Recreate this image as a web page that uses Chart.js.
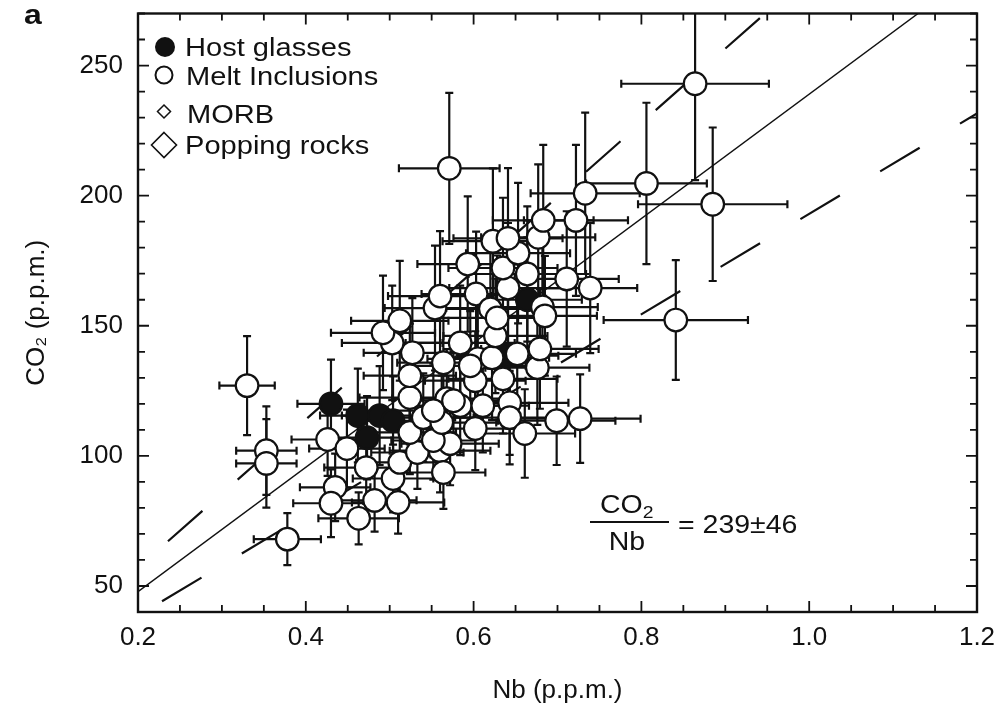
<!DOCTYPE html>
<html><head><meta charset="utf-8">
<script src="https://cdn.jsdelivr.net/npm/chart.js@4.4.1/dist/chart.umd.min.js"></script>
<style>html,body{margin:0;padding:0;background:#fff}#wrap{width:1002px;height:706px;position:relative}</style>
</head><body><div id="wrap"><canvas id="c"></canvas></div>
<script>
// ---- Data ----
const hostNb     = [0.430, 0.462, 0.473, 0.488, 0.504, 0.641, 0.664];
const hostCO2    = [120, 115.5, 107, 115.5, 113.5, 138.5, 160];
const hostNbErr  = [0.040, 0.045, 0.050, 0.045, 0.050, 0.060, 0.065];
const hostCO2Err = [17, 18, 16, 19, 17, 22, 24];

const miNb = [0.330,0.353,0.353,0.378,0.426,0.449,0.472,0.435,0.430,0.463,
              0.482,0.510,0.504,0.512,0.533,0.560,0.564,0.572,0.552,0.524,
              0.540,0.562,0.602,0.584,0.611,0.643,0.643,0.661,0.699,0.727,
              0.524,0.568,0.524,0.602,0.635,0.676,0.679,0.564,0.527,0.503,
              0.492,0.512,0.584,0.605,0.622,0.626,0.652,0.554,0.560,0.603,
              0.620,0.628,0.641,0.682,0.685,0.711,0.739,0.593,0.635,0.664,
              0.653,0.623,0.641,0.677,0.683,0.722,0.733,0.571,0.806,0.864,
              0.885,0.841,0.552,0.576,0.596];
const miCO2 = [127.0,102.0,97.1,68.0,106.3,102.8,95.5,87.9,81.8,76.0,
               82.9,82.1,91.3,97.5,101.3,102.0,93.6,104.7,105.9,109.0,
               114.7,112.8,110.5,119.3,119.3,120.4,114.7,108.6,113.5,114.3,
               122.4,122.0,130.8,128.9,129.6,133.9,141.1,135.8,139.6,143.4,
               147.3,151.9,143.4,137.3,137.7,146.1,139.2,156.8,161.4,162.2,
               156.5,153.0,164.5,157.2,153.8,168.0,164.5,173.7,172.2,169.9,
               177.9,182.5,183.6,184.0,190.5,190.5,200.9,210.5,204.7,243.0,
               196.7,152.2,117.4,121.2,134.6];
const miNbErr = [0.033,0.036,0.036,0.040,0.043,0.045,0.050,0.042,0.045,0.048,
                 0.050,0.055,0.048,0.052,0.055,0.060,0.050,0.058,0.050,0.055,
                 0.060,0.065,0.058,0.062,0.055,0.070,0.065,0.060,0.070,0.072,
                 0.060,0.065,0.055,0.060,0.065,0.062,0.070,0.055,0.058,0.060,
                 0.062,0.058,0.065,0.060,0.068,0.062,0.070,0.060,0.062,0.065,
                 0.060,0.068,0.070,0.066,0.062,0.062,0.056,0.060,0.065,0.070,
                 0.062,0.060,0.065,0.068,0.060,0.062,0.065,0.060,0.072,0.088,
                 0.089,0.086,0.058,0.062,0.066];
const miCO2Err = [19,17,17,10,14,15,14,13,13,10,
                  12,12,13,15,14,16,14,16,15,16,
                  17,18,16,19,18,20,18,17,17,17,
                  18,19,20,19,21,22,23,20,21,22,
                  22,23,22,21,24,22,23,24,25,24,
                  23,24,25,24,23,26,25,26,27,26,
                  27,28,27,28,29,29,31,29,31,37,
                  29.5,23,18,19,21];

const ratioValue = 239;
const ratioError = 46;
const lineNb = [0.2, 1.2];

const xTickValues = [0.2, 0.4, 0.6, 0.8, 1.0, 1.2];
const xTickLabels = ['0.2', '0.4', '0.6', '0.8', '1.0', '1.2'];
const yTickValues = [50, 100, 150, 200, 250];
const yTickLabels = ['50', '100', '150', '200', '250'];
const legendLabels = ['Host glasses', 'Melt Inclusions', 'MORB', 'Popping rocks'];
const xTitle = 'Nb (p.p.m.)';
const yTitle = 'CO\u2082 (p.p.m.)';
const panelLabel = 'a';

// ---- Drawing helpers ----
const INK = '#111';
const SX = 1.14;
function sText(ctx, text, x, y, size, weight, align) {
  ctx.save();
  ctx.font = (weight || 'normal') + ' ' + size + 'px "Liberation Sans", Arial, sans-serif';
  ctx.textAlign = align || 'left';
  ctx.textBaseline = 'alphabetic';
  ctx.fillStyle = INK;
  ctx.translate(x, y);
  ctx.scale(SX, 1);
  ctx.fillText(text, 0, 0);
  const w = ctx.measureText(text).width * SX;
  ctx.restore();
  return w;
}

const errPlugin = {
  id: 'errbars',
  beforeDatasetsDraw(chart) {
    const {ctx, chartArea: a, scales: {x, y}} = chart;
    ctx.save();
    ctx.beginPath();
    ctx.rect(a.left, a.top, a.right - a.left, a.bottom - a.top);
    ctx.clip();
    ctx.strokeStyle = INK;
    ctx.lineWidth = 2.2;
    const cap = 4;
    const draw = (nb, co, ne, ce) => {
      for (let i = 0; i < nb.length; i++) {
        const px = x.getPixelForValue(nb[i]);
        const py = y.getPixelForValue(co[i]);
        const x0 = x.getPixelForValue(nb[i] - ne[i]);
        const x1 = x.getPixelForValue(nb[i] + ne[i]);
        const y0 = y.getPixelForValue(co[i] - ce[i]);
        const y1 = y.getPixelForValue(co[i] + ce[i]);
        ctx.beginPath();
        ctx.moveTo(x0, py); ctx.lineTo(x1, py);
        ctx.moveTo(x0, py - cap); ctx.lineTo(x0, py + cap);
        ctx.moveTo(x1, py - cap); ctx.lineTo(x1, py + cap);
        ctx.moveTo(px, y0); ctx.lineTo(px, y1);
        ctx.moveTo(px - cap, y0); ctx.lineTo(px + cap, y0);
        ctx.moveTo(px - cap, y1); ctx.lineTo(px + cap, y1);
        ctx.stroke();
      }
    };
    draw(hostNb, hostCO2, hostNbErr, hostCO2Err);
    draw(miNb, miCO2, miNbErr, miCO2Err);
    ctx.restore();
  }
};

const framePlugin = {
  id: 'frame',
  afterDraw(chart) {
    const {ctx, chartArea: a, scales: {x, y}} = chart;
    ctx.save();
    ctx.strokeStyle = INK;
    ctx.lineWidth = 2.4;
    ctx.strokeRect(a.left, a.top, a.right - a.left, a.bottom - a.top);
    ctx.lineWidth = 1.8;
    for (let k = 0; k <= 20; k++) {
      const v = x.min + k * 0.05;
      const major = k % 4 === 0;
      const L = major ? 11 : 7;
      const px = x.getPixelForValue(v);
      ctx.beginPath();
      ctx.moveTo(px, a.bottom); ctx.lineTo(px, a.bottom - L);
      ctx.moveTo(px, a.top); ctx.lineTo(px, a.top + L);
      ctx.stroke();
    }
    for (let v = 40; v <= y.max; v += 10) {
      const major = v % 50 === 0;
      const L = major ? 11 : 7;
      const py = y.getPixelForValue(v);
      ctx.beginPath();
      ctx.moveTo(a.left, py); ctx.lineTo(a.left + L, py);
      ctx.moveTo(a.right, py); ctx.lineTo(a.right - L, py);
      ctx.stroke();
    }
    ctx.restore();

    sText(ctx, panelLabel, 24, 24, 28, 'bold');

    ctx.save();
    ctx.strokeStyle = INK; ctx.fillStyle = INK;
    ctx.beginPath(); ctx.arc(165, 47, 10, 0, Math.PI * 2); ctx.fill();
    ctx.lineWidth = 2;
    ctx.beginPath(); ctx.arc(164, 75, 8.5, 0, Math.PI * 2); ctx.stroke();
    ctx.lineWidth = 1.5;
    ctx.beginPath(); ctx.moveTo(164, 105); ctx.lineTo(170.5, 111.5); ctx.lineTo(164, 118); ctx.lineTo(157.5, 111.5); ctx.closePath(); ctx.stroke();
    ctx.lineWidth = 1.6;
    ctx.beginPath(); ctx.moveTo(164, 132.5); ctx.lineTo(176.5, 145); ctx.lineTo(164, 157.5); ctx.lineTo(151.5, 145); ctx.closePath(); ctx.stroke();
    ctx.restore();
    sText(ctx, legendLabels[0], 185, 55.5, 25.5);
    sText(ctx, legendLabels[1], 186, 84.5, 25.5);
    sText(ctx, legendLabels[2], 187, 122.5, 25.5);
    sText(ctx, legendLabels[3], 185, 153.5, 25.5);

    const w1 = sText(ctx, 'CO', 600, 513, 25);
    sText(ctx, '2', 600 + w1, 518, 17);
    ctx.save();
    ctx.strokeStyle = INK; ctx.lineWidth = 2;
    ctx.beginPath(); ctx.moveTo(590, 522); ctx.lineTo(669, 522); ctx.stroke();
    ctx.restore();
    sText(ctx, 'Nb', 627, 550, 25, 'normal', 'center');
    sText(ctx, '= ' + ratioValue + '\u00B1' + ratioError, 678, 533, 25);
  }
};

const tickFont = {family: '"Liberation Sans", Arial, sans-serif', size: 26};

new Chart(document.getElementById('c'), {
  type: 'scatter',
  data: {
    datasets: [
      {
        label: legendLabels[1],
        data: miNb.map((v, i) => ({x: v, y: miCO2[i]})),
        pointRadius: 11.3, pointHoverRadius: 11.3,
        pointBackgroundColor: '#fff', pointBorderColor: INK, pointBorderWidth: 2.2
      },
      {
        label: legendLabels[0],
        data: hostNb.map((v, i) => ({x: v, y: hostCO2[i]})),
        pointRadius: 11.3, pointHoverRadius: 11.3,
        pointBackgroundColor: INK, pointBorderColor: INK, pointBorderWidth: 2.2
      },
      {
        type: 'line', label: 'ratio',
        data: lineNb.map(v => ({x: v, y: ratioValue * v})),
        borderColor: INK, borderWidth: 1.4, pointRadius: 0, fill: false
      },
      {
        type: 'line', label: 'ratio+err',
        data: lineNb.map(v => ({x: v, y: (ratioValue + ratioError) * v})),
        borderColor: INK, borderWidth: 2.2, pointRadius: 0, fill: false,
        borderDash: [46, 47], borderDashOffset: 53
      },
      {
        type: 'line', label: 'ratio-err',
        data: lineNb.map(v => ({x: v, y: (ratioValue - ratioError) * v})),
        borderColor: INK, borderWidth: 2.2, pointRadius: 0, fill: false,
        borderDash: [46, 47], borderDashOffset: 65
      }
    ]
  },
  options: {
    responsive: true, maintainAspectRatio: false, animation: false,
    events: [],
    layout: {padding: {left: 0, right: 25, top: 12, bottom: 0}},
    plugins: {legend: {display: false}, tooltip: {enabled: false}},
    scales: {
      x: {
        type: 'linear', min: 0.2, max: 1.2,
        afterFit(s) { s.height = 94; s.paddingLeft = 0; s.paddingRight = 0; },
        afterBuildTicks(s) { s.ticks = xTickValues.map(v => ({value: v})); },
        ticks: {callback: (v, i) => xTickLabels[i], padding: 10, font: tickFont, color: INK, maxRotation: 0, autoSkip: false},
        grid: {display: false, drawTicks: false},
        border: {display: false},
        title: {display: true, text: xTitle, font: tickFont, color: INK, padding: {top: 0, bottom: 0}}
      },
      y: {
        type: 'linear', min: 40, max: 270,
        afterFit(s) { s.width = 138; s.paddingTop = 0; s.paddingBottom = 0; },
        afterBuildTicks(s) { s.ticks = yTickValues.map(v => ({value: v})); },
        ticks: {callback: (v, i) => yTickLabels[i], padding: 15, font: tickFont, color: INK, autoSkip: false},
        grid: {display: false, drawTicks: false},
        border: {display: false},
        title: {display: true, text: yTitle, font: tickFont, color: INK, padding: {top: 21, bottom: 0}}
      }
    }
  },
  plugins: [errPlugin, framePlugin]
});
</script>
</body></html>
